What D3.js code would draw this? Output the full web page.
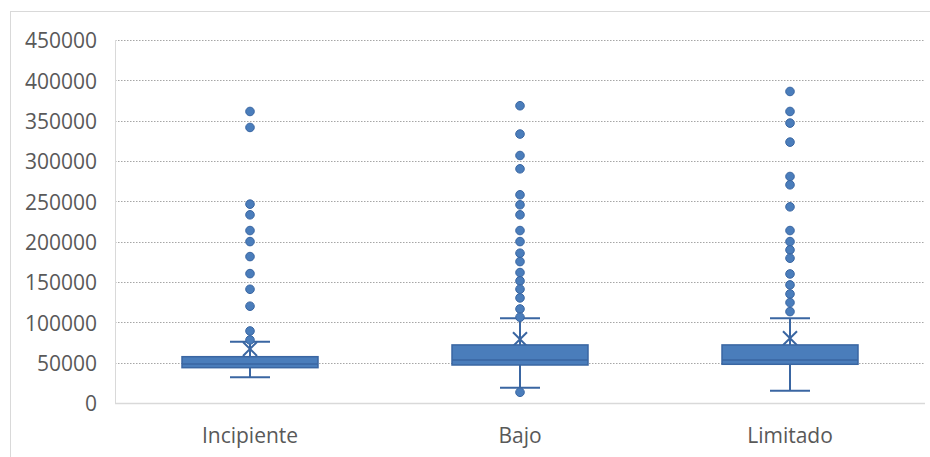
<!DOCTYPE html>
<html>
<head>
<meta charset="utf-8">
<script src="https://cdn.jsdelivr.net/npm/d3@7/dist/d3.min.js"></script>
<style>
  html, body { margin: 0; padding: 0; background: #fff; }
  svg { display: block; }
  text { font-family: "Open Sans", "Noto Sans", sans-serif; fill: #595959; }
</style>
</head>
<body>
<svg id="chart" width="930" height="457"></svg>
<script>
// Box plot summary per category
const categories = ["Incipiente", "Bajo", "Limitado"];
const whiskerLow  = [31900, 19000, 15300];
const q1          = [43800, 47100, 48000];
const medians     = [48400, 53400, 53400];
const q3          = [57400, 72000, 72000];
const whiskerHigh = [76000, 105100, 105100];
const means       = [67000, 79000, 80300];

// Outlying observations per category
const outliersIncipiente = [361400, 341600, 246500, 233300, 213800, 200100, 181500, 160400, 141000, 120000, 89300, 78200];
const outliersBajo = [368500, 333400, 306800, 290300, 258100, 245700, 233300, 213800, 200100, 185700, 175300, 161700, 151400, 141100, 130300, 116600, 106300, 13300];
const outliersLimitado = [386200, 361400, 347000, 323400, 280800, 270500, 243200, 213800, 200100, 189800, 179500, 160000, 146400, 135200, 124500, 113300];
const outliers = [outliersIncipiente, outliersBajo, outliersLimitado];

const yTicks = [0, 50000, 100000, 150000, 200000, 250000, 300000, 350000, 400000, 450000];

const boxes = categories.map((c, i) => ({
  cat: c, lo: whiskerLow[i], q1: q1[i], med: medians[i], q3: q3[i],
  hi: whiskerHigh[i], mean: means[i], out: outliers[i]
}));

const svg = d3.select("#chart");
const margin = { left: 115, right: 5, top: 40, bottom: 54 };
const W = 930, H = 457;

const x = d3.scaleBand().domain(categories).range([margin.left, W - margin.right]);
const y = d3.scaleLinear().domain([0, 450000]).range([H - margin.bottom, margin.top]);

const fill = "#4a7dbb", stroke = "#3a66a2";

// outer chart frame
svg.append("rect")
  .attr("x", 10.5).attr("y", 11.5).attr("width", 940).attr("height", 460)
  .attr("fill", "none").attr("stroke", "#d9d9d9").attr("stroke-width", 1);

// dotted gridlines
svg.append("g").selectAll("line")
  .data(yTicks.filter(t => t > 0))
  .join("line")
  .attr("x1", margin.left).attr("x2", W - margin.right)
  .attr("y1", d => Math.round(y(d)) + 0.5).attr("y2", d => Math.round(y(d)) + 0.5)
  .attr("stroke", "#a6a6a6").attr("stroke-width", 1.2)
  .attr("stroke-dasharray", "1.5,1.5");

// axis lines
svg.append("line")
  .attr("x1", margin.left).attr("x2", W - margin.right)
  .attr("y1", Math.round(y(0)) + 0.5).attr("y2", Math.round(y(0)) + 0.5)
  .attr("stroke", "#d9d9d9").attr("stroke-width", 1.5);
svg.append("line")
  .attr("x1", margin.left + 0.5).attr("x2", margin.left + 0.5)
  .attr("y1", y(450000)).attr("y2", y(0))
  .attr("stroke", "#d9d9d9").attr("stroke-width", 1);

// y axis labels
const yAxis = d3.axisLeft(y).tickValues(yTicks).tickSize(0).tickPadding(18)
  .tickFormat(d3.format("d"));
const gy = svg.append("g").attr("transform", `translate(${margin.left},1)`).call(yAxis);
gy.select(".domain").remove();
gy.selectAll("text").attr("font-size", 21).attr("fill", "#595959")
  .style("font-family", "'Open Sans', sans-serif");

// x axis labels
const xAxis = d3.axisBottom(x).tickSize(0).tickPadding(25);
const gx = svg.append("g").attr("transform", `translate(0,${y(0)})`).call(xAxis);
gx.select(".domain").remove();
gx.selectAll("text").attr("font-size", 21).attr("fill", "#595959")
  .style("font-family", "'Open Sans', sans-serif");

const boxW = 136, capW = 40;
const g = svg.append("g").selectAll("g").data(boxes).join("g")
  .attr("transform", d => `translate(${x(d.cat) + x.bandwidth() / 2},0)`);

// whisker stems
g.append("line").attr("x1", 0).attr("x2", 0)
  .attr("y1", d => y(d.q3)).attr("y2", d => y(d.hi))
  .attr("stroke", stroke).attr("stroke-width", 2);
g.append("line").attr("x1", 0).attr("x2", 0)
  .attr("y1", d => y(d.q1)).attr("y2", d => y(d.lo))
  .attr("stroke", stroke).attr("stroke-width", 2);
// whisker caps
g.append("line").attr("x1", -capW / 2).attr("x2", capW / 2)
  .attr("y1", d => y(d.hi)).attr("y2", d => y(d.hi))
  .attr("stroke", stroke).attr("stroke-width", 2);
g.append("line").attr("x1", -capW / 2).attr("x2", capW / 2)
  .attr("y1", d => y(d.lo)).attr("y2", d => y(d.lo))
  .attr("stroke", stroke).attr("stroke-width", 2);

// mean marker
g.append("path")
  .attr("d", d3.symbol(d3.symbolX, 130))
  .attr("transform", d => `translate(0,${y(d.mean)})`)
  .attr("fill", "none").attr("stroke", stroke).attr("stroke-width", 2);

// boxes
g.append("rect")
  .attr("x", -boxW / 2).attr("width", boxW)
  .attr("y", d => y(d.q3)).attr("height", d => y(d.q1) - y(d.q3))
  .attr("fill", fill).attr("stroke", stroke).attr("stroke-width", 1.5);
// medians
g.append("line").attr("x1", -boxW / 2).attr("x2", boxW / 2)
  .attr("y1", d => y(d.med)).attr("y2", d => y(d.med))
  .attr("stroke", stroke).attr("stroke-width", 1.5);

// outliers
g.selectAll("circle").data(d => d.out).join("circle")
  .attr("cx", 0).attr("cy", v => y(v)).attr("r", 4.3)
  .attr("fill", fill).attr("stroke", stroke).attr("stroke-width", 1);
</script>
</body>
</html>
